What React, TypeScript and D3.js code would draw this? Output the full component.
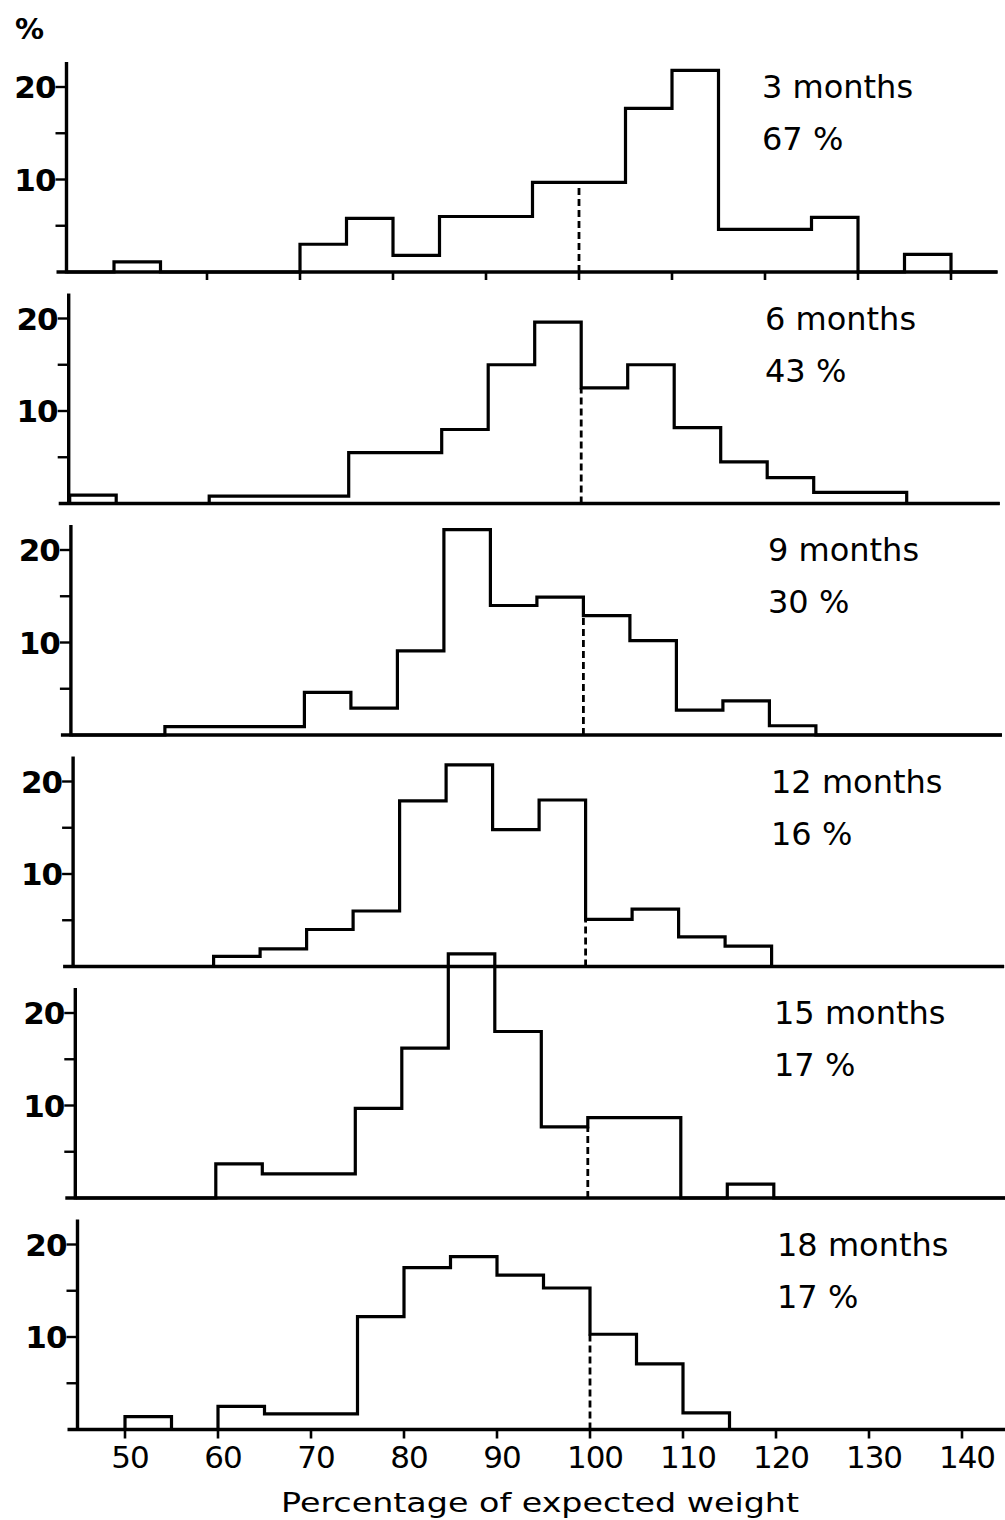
import React from "react";
import * as d3 from "d3";

const width = 1005;
const height = 1520;
const font = "'DejaVu Sans', 'Liberation Sans', sans-serif";

// histogram bins, 5 points wide, starting at these values (% of expected weight)
const binStarts = [45, 50, 55, 60, 65, 70, 75, 80, 85, 90, 95, 100, 105, 110, 115, 120, 125, 130, 135, 140];

// percentage of children in each bin
const months3 = [0, 1.1, 0, 0, 0, 3, 5.8, 1.8, 6, 6, 9.7, 9.7, 17.7, 21.8, 4.6, 4.6, 5.9, 0, 1.9, 0];
const months6 = [0.9, 0, 0, 0.8, 0.8, 0.8, 5.5, 5.5, 8.0, 15.0, 19.6, 12.5, 15.0, 8.2, 4.5, 2.8, 1.2, 1.2, 0, 0];
const months9 = [0, 0, 0.9, 0.9, 0.9, 4.6, 2.9, 9.1, 22.2, 14.0, 14.9, 12.9, 10.2, 2.7, 3.7, 1.0, 0, 0, 0, 0];
const months12 = [0, 0, 0, 1.1, 1.9, 4.0, 6.0, 17.9, 21.8, 14.8, 18.0, 5.1, 6.2, 3.2, 2.2, 0, 0, 0, 0, 0];
const months15 = [0, 0, 0, 3.7, 2.6, 2.6, 9.7, 16.2, 26.4, 18.0, 7.7, 8.7, 8.7, 0, 1.5, 0, 0, 0, 0, 0];
const months18 = [0, 1.4, 0, 2.5, 1.7, 1.7, 12.2, 17.5, 18.7, 16.7, 15.3, 10.3, 7.1, 1.8, 0, 0, 0, 0, 0, 0];

const series = [months3, months6, months9, months12, months15, months18];
const ageLabels = ["3 months", "6 months", "9 months", "12 months", "15 months", "18 months"];
const belowLabels = ["67 %", "43 %", "30 %", "16 %", "17 %", "17 %"];

const yTicks = [5, 10, 15, 20];
const yTickLabels = [10, 20];
const xTicks = [50, 60, 70, 80, 90, 100, 110, 120, 130, 140];
const topTicks = [60, 70, 80, 90, 100, 110, 120, 130, 140];
const expected = 100;

const firstBase = 272; // baseline of the top panel
const panelStep = 231.5;
const unit = 9.25; // px per percent
const skew = 2.2; // scanned figure drifts right a little per panel

const x = d3.scaleLinear().domain([45, 145]).range([67.5, 997.5]);

const Panel = ({ values, index }) => {
  const base = firstBase + index * panelStep;
  const dx = index * skew;
  const y = d3.scaleLinear().domain([0, 20]).range([base, base - 20 * unit]);
  const px = (v) => x(v) + dx;

  const pts = [[45, 0], ...binStarts.map((b, i) => [b, values[i]]), [145, 0]];
  const line = d3
    .line()
    .x((d) => px(d[0]))
    .y((d) => y(d[1]))
    .curve(d3.curveStepAfter);

  const iExp = binStarts.indexOf(expected);
  const dashTop = Math.min(values[iExp - 1], values[iExp]);
  const axisX = px(45) - 1;
  const isLast = index === series.length - 1;

  return (
    <g>
      {/* x baseline */}
      <line x1={axisX - 10} x2={px(145)} y1={y(0)} y2={y(0)} stroke="#000" strokeWidth={3.4} />
      {/* y axis */}
      <line x1={axisX} x2={axisX} y1={y(0) + 1.5} y2={y(22.7)} stroke="#000" strokeWidth={3.4} />
      {yTicks.map((t) => (
        <line key={t} x1={axisX - 11} x2={axisX} y1={y(t)} y2={y(t)} stroke="#000" strokeWidth={2.4} />
      ))}
      {yTickLabels.map((t) => (
        <text
          key={t}
          x={axisX - 11}
          y={y(t)}
          dy="0.37em"
          textAnchor="end"
          fontFamily={font}
          fontSize={31}
          fontWeight="bold"
          letterSpacing={-1}
        >
          {t}
        </text>
      ))}
      {index === 0 &&
        topTicks.map((t) => (
          <line key={t} x1={px(t)} x2={px(t)} y1={y(0)} y2={y(0) + 8} stroke="#000" strokeWidth={2.6} />
        ))}
      {isLast &&
        xTicks.map((t) => (
          <g key={t}>
            <line x1={px(t)} x2={px(t)} y1={y(0)} y2={y(0) + 9} stroke="#000" strokeWidth={2.6} />
            <text
              x={px(t) + 5}
              y={y(0) + 38}
              textAnchor="middle"
              fontFamily={font}
              fontSize={31}
              letterSpacing={-1}
            >
              {t}
            </text>
          </g>
        ))}
      {/* expected weight marker */}
      <line
        x1={px(expected)}
        x2={px(expected)}
        y1={y(0)}
        y2={y(dashTop)}
        stroke="#000"
        strokeWidth={2.8}
        strokeDasharray="7 4"
      />
      <path d={line(pts)} fill="none" stroke="#000" strokeWidth={3.2} strokeLinejoin="miter" />
      <text x={762 + index * 3} y={base - 174} fontFamily={font} fontSize={32}>
        {ageLabels[index]}
      </text>
      <text x={762 + index * 3} y={base - 122} fontFamily={font} fontSize={32}>
        {belowLabels[index]}
      </text>
    </g>
  );
};

const App = () => {
  return (
    <svg
      width={width}
      height={height}
      style={{ position: "absolute", left: 0, top: 0, background: "#fff" }}
    >
      <rect width={width} height={height} fill="#fff" />
      <text x={15} y={39} fontFamily={font} fontSize={29} fontWeight="bold">
        %
      </text>
      {series.map((values, i) => (
        <Panel key={ageLabels[i]} values={values} index={i} />
      ))}
      <text
        x={540}
        y={1512}
        textAnchor="middle"
        fontFamily={font}
        fontSize={27}
        textLength={518}
        lengthAdjust="spacingAndGlyphs"
      >
        Percentage of expected weight
      </text>
    </svg>
  );
};

export default App;
